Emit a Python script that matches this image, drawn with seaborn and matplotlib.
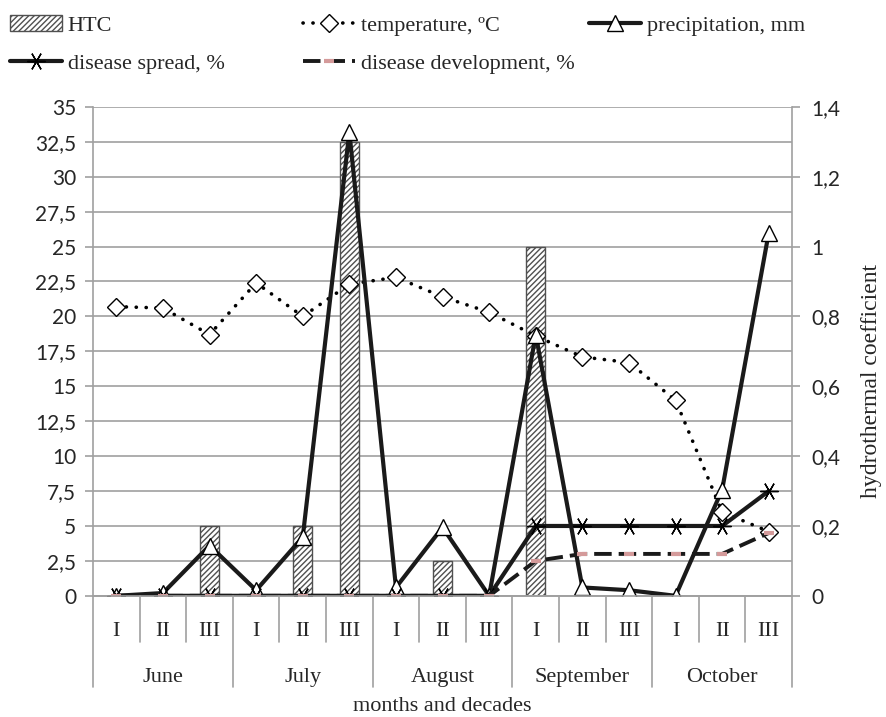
import numpy as np
import pandas as pd
import matplotlib.pyplot as plt
import matplotlib.transforms as mtransforms
import seaborn as sns

sns.set_style("white")
plt.rcParams['font.family'] = ['Liberation Serif', 'DejaVu Sans']

# ── Data ──────────────────────────────────────────────────────
months = ["June", "July", "August", "September", "October"]
decades = ["I", "II", "III"]

htc = [0, 0, 0.2, 0, 0.2, 1.3, 0, 0.1, 0, 1.0, 0, 0, 0, 0, 0]
temperature = [20.7, 20.6, 18.7, 22.4, 20.0, 22.3, 22.8, 21.4, 20.3,
               18.6, 17.1, 16.7, 14.0, 6.0, 4.6]
precipitation = [0, 0.2, 3.6, 0.4, 4.2, 33.2, 0.6, 4.9, 0,
                 18.7, 0.6, 0.4, 0, 7.6, 26.0]
spread = [0, 0, 0, 0, 0, 0, 0, 0, 0, 5, 5, 5, 5, 5, 7.5]
development = [0, 0, 0, 0, 0, 0, 0, 0, 0, 2.5, 3, 3, 3, 3, 4.5]

pos = np.arange(len(htc))
df = pd.DataFrame({'pos': pos, 'htc': htc, 'temperature': temperature,
                   'precipitation': precipitation, 'spread': spread,
                   'development': development})

# ── Figure ────────────────────────────────────────────────────
fig = plt.figure(figsize=(8.86, 7.17), dpi=100, facecolor='white')
ax = fig.add_axes([0.105, 0.169, 0.789, 0.682])
ax2 = ax.twinx()

grid_col = '#a0a0a0'

# HTC bars on the right axis
sns.barplot(data=df, x='pos', y='htc', ax=ax2, width=0.4, color='white',
            edgecolor='#505050', linewidth=1.0, hatch='//////', label='HTC',
            saturation=1)

# lines on the left axis
sns.lineplot(data=df, x='pos', y='temperature', ax=ax, color='black',
             linestyle=(0, (0.05, 2.7)), dash_capstyle='round', lw=2.6,
             marker='D', markersize=9, markerfacecolor='white',
             markeredgecolor='black', markeredgewidth=1.0,
             label='temperature, ºC')
sns.lineplot(data=df, x='pos', y='precipitation', ax=ax, color='#1a1a1a',
             lw=3, marker='^', markersize=12, markerfacecolor='white',
             markeredgecolor='black', markeredgewidth=1.0,
             label='precipitation, mm')
sns.lineplot(data=df, x='pos', y='spread', ax=ax, color='#1a1a1a',
             lw=3, marker=(6, 2, 90), markersize=13, markeredgecolor='black',
             markeredgewidth=1.0, label='disease spread, %')
sns.lineplot(data=df, x='pos', y='development', ax=ax, color='#1a1a1a',
             lw=2.8, linestyle=(0, (4.5, 1.8)), marker='_', markersize=7,
             markeredgecolor='#d49a9a', markeredgewidth=3,
             label='disease development, %')

ax.set_zorder(ax2.get_zorder() + 1)
ax.patch.set_visible(False)

# ── Axes formatting ───────────────────────────────────────────
ax.set_xlim(-0.5, 14.5)
ax.set_ylim(0, 35)
ax2.set_ylim(0, 1.4)

left_ticks = np.arange(0, 35.01, 2.5)
ax.set_yticks(left_ticks)
ax.set_yticklabels([('%g' % v).replace('.', ',') for v in left_ticks],
                   family='Lato', fontsize=15)
right_ticks = np.arange(0, 1.41, 0.2)
ax2.set_yticks(right_ticks)
ax2.set_yticklabels([('%g' % round(v, 1)).replace('.', ',') for v in right_ticks],
                    family='Lato', fontsize=15)
ax2.set_yticks(np.arange(0, 1.41, 0.1), minor=True)
ax2.grid(True, which='both', axis='y', color=grid_col, lw=1.2)
ax2.tick_params(axis='y', which='minor', length=0)
ax2.tick_params(axis='y', which='major', length=6, color=grid_col, width=1.2, pad=8)
ax.tick_params(axis='y', length=6, color=grid_col, width=1.2, pad=6)

ax.set_xticks([])
ax2.set_xticks([])
ax.set_xlabel('')
ax.set_ylabel('')
ax2.set_xlabel('')
ax2.set_ylabel('')
fig.text(871 / 886, 0.469, 'hydrothermal coefficient', rotation=90,
         ha='center', va='center', fontsize=17)

for a in (ax, ax2):
    a.spines['top'].set_visible(False)
    for s in ('left', 'right', 'bottom'):
        a.spines[s].set_color(grid_col)
        a.spines[s].set_linewidth(1.2)
ax.spines['right'].set_visible(False)
ax2.spines['left'].set_visible(False)
for a in (ax, ax2):
    if a.get_legend():
        a.get_legend().remove()

# ── Hierarchical x labels ─────────────────────────────────────
trans = mtransforms.blended_transform_factory(ax.transData, ax.transAxes)
for i in range(len(pos) + 1):
    depth = -0.186 if i % 3 == 0 else -0.094
    ax.plot([i - 0.5, i - 0.5], [0, depth], transform=trans, color=grid_col,
            lw=1.2, clip_on=False)
for i in pos:
    ax.text(i, -0.082, decades[i % 3], transform=trans, ha='center',
            va='baseline', fontsize=16)
for m, name in enumerate(months):
    ax.text(3 * m + 1, -0.176, name, transform=trans, ha='center',
            va='baseline', fontsize=16)
ax.text(7, -0.236, 'months and decades', transform=trans, ha='center',
        va='baseline', fontsize=16)

# ── Legend ────────────────────────────────────────────────────
h1, l1 = ax2.get_legend_handles_labels()
h2, l2 = ax.get_legend_handles_labels()
hd = dict(zip(l1 + l2, h1 + h2))
common = dict(frameon=False, fontsize=16, handlelength=2.35, handletextpad=0.25,
              labelspacing=0.78, borderaxespad=0, borderpad=0)
fig.legend([hd['HTC'], hd['disease spread, %']], ['HTC', 'disease spread, %'],
           loc='upper left', bbox_to_anchor=(0.011, 0.979), **common)
fig.legend([hd['temperature, ºC'], hd['disease development, %']],
           ['temperature, ºC', 'disease development, %'],
           loc='upper left', bbox_to_anchor=(0.342, 0.979), **common)
fig.legend([hd['precipitation, mm']], ['precipitation, mm'],
           loc='upper left', bbox_to_anchor=(0.665, 0.979), **common)

fig.savefig('out.png', dpi=100, facecolor='white')
